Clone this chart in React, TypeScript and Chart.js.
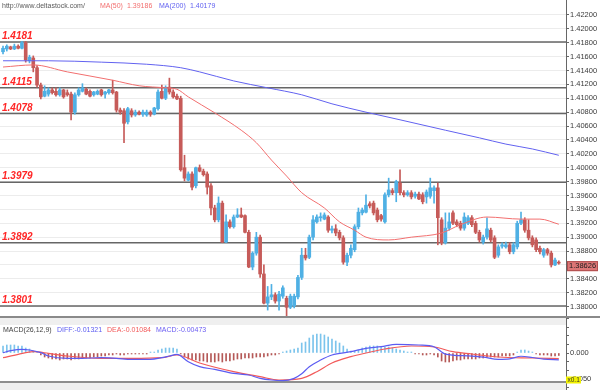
import React, { useEffect, useRef } from 'react';
import { Chart, registerables } from 'chart.js';

Chart.register(...registerables);

// ---------- DATA ----------
const OPEN = [
  1.4167, 1.4171, 1.4174, 1.4171, 1.4175, 1.4172, 1.4180, 1.4154, 1.4158, 1.4144,
  1.4119, 1.4103, 1.4106, 1.4112, 1.4110, 1.4105, 1.4112, 1.4108, 1.4106, 1.4080,
  1.4105, 1.4110, 1.4113, 1.4110, 1.4105, 1.4106, 1.4112, 1.4106, 1.4108, 1.4112,
  1.4109, 1.4083, 1.4082, 1.4066, 1.4082, 1.4076, 1.4080, 1.4077, 1.4076, 1.4080,
  1.4077, 1.4085, 1.4110, 1.4100, 1.4116, 1.4109, 1.4103, 1.4100, 1.4000, 1.3982,
  1.3991, 1.3974, 1.4000, 1.3995, 1.3991, 1.3974, 1.3942, 1.3925, 1.3949, 1.3893,
  1.3922, 1.3915, 1.3929, 1.3932, 1.3931, 1.3907, 1.3857, 1.3877, 1.3900, 1.3847,
  1.3805, 1.3814, 1.3817, 1.3808, 1.3815, 1.3812, 1.3799, 1.3801, 1.3814, 1.3842,
  1.3874, 1.3871, 1.3900, 1.3922, 1.3928, 1.3926, 1.3929, 1.3910, 1.3912, 1.3907,
  1.3899, 1.3864, 1.3874, 1.3882, 1.3915, 1.3935, 1.3936, 1.3948, 1.3949, 1.3939,
  1.3931, 1.3922, 1.3961, 1.3967, 1.3964, 1.3978, 1.3964, 1.3961, 1.3964, 1.3959,
  1.3962, 1.3961, 1.3958, 1.3959, 1.3967, 1.3971, 1.3925, 1.3892, 1.3913, 1.3935,
  1.3922, 1.3920, 1.3913, 1.3920, 1.3928, 1.3920, 1.3907, 1.3893, 1.3900, 1.3910,
  1.3899, 1.3874, 1.3887, 1.3886, 1.3889, 1.3879, 1.3886, 1.3920, 1.3925, 1.3910,
  1.3899, 1.3896, 1.3884, 1.3874, 1.3882, 1.3877, 1.3860, 1.3864,
];
const HIGH = [
  1.4175, 1.4177, 1.4175, 1.4178, 1.4177, 1.4182, 1.4182, 1.4162, 1.4161, 1.4147,
  1.4122, 1.4118, 1.4115, 1.4115, 1.4115, 1.4115, 1.4113, 1.4112, 1.4109, 1.4108,
  1.4115, 1.4121, 1.4115, 1.4112, 1.4110, 1.4112, 1.4113, 1.4110, 1.4113, 1.4126,
  1.4110, 1.4086, 1.4085, 1.4087, 1.4085, 1.4083, 1.4082, 1.4083, 1.4083, 1.4082,
  1.4087, 1.4112, 1.4119, 1.4118, 1.4129, 1.4112, 1.4106, 1.4103, 1.4018, 1.3994,
  1.3994, 1.4001, 1.4004, 1.3998, 1.3994, 1.3977, 1.3946, 1.3958, 1.3952, 1.3932,
  1.3925, 1.3932, 1.3941, 1.3942, 1.3932, 1.3910, 1.3879, 1.3907, 1.3903, 1.3860,
  1.3829, 1.3832, 1.3820, 1.3822, 1.3830, 1.3815, 1.3818, 1.3818, 1.3845, 1.3884,
  1.3884, 1.3903, 1.3931, 1.3932, 1.3935, 1.3935, 1.3931, 1.3916, 1.3918, 1.3910,
  1.3902, 1.3877, 1.3889, 1.3918, 1.3942, 1.3942, 1.3961, 1.3951, 1.3952, 1.3942,
  1.3933, 1.3964, 1.3985, 1.3970, 1.3982, 1.3997, 1.3967, 1.3967, 1.3967, 1.3965,
  1.3965, 1.3964, 1.3968, 1.3985, 1.3974, 1.3978, 1.3928, 1.3935, 1.3935, 1.3938,
  1.3925, 1.3923, 1.3935, 1.3931, 1.3931, 1.3923, 1.3910, 1.3903, 1.3928, 1.3913,
  1.3902, 1.3889, 1.3892, 1.3893, 1.3892, 1.3892, 1.3923, 1.3936, 1.3928, 1.3925,
  1.3902, 1.3899, 1.3887, 1.3884, 1.3884, 1.3880, 1.3870, 1.3866,
];
const LOW = [
  1.4164, 1.4168, 1.4170, 1.4170, 1.4171, 1.4171, 1.4152, 1.4151, 1.4138, 1.4116,
  1.4099, 1.4102, 1.4103, 1.4106, 1.4103, 1.4103, 1.4100, 1.4103, 1.4069, 1.4077,
  1.4103, 1.4109, 1.4105, 1.4102, 1.4103, 1.4105, 1.4103, 1.4100, 1.4106, 1.4106,
  1.4080, 1.4077, 1.4036, 1.4063, 1.4073, 1.4074, 1.4076, 1.4074, 1.4074, 1.4074,
  1.4076, 1.4083, 1.4099, 1.4098, 1.4106, 1.4100, 1.4098, 1.3995, 1.3981, 1.3981,
  1.3968, 1.3971, 1.3994, 1.3988, 1.3962, 1.3932, 1.3922, 1.3922, 1.3892, 1.3892,
  1.3913, 1.3913, 1.3928, 1.3928, 1.3906, 1.3856, 1.3853, 1.3874, 1.3842, 1.3804,
  1.3795, 1.3810, 1.3805, 1.3795, 1.3812, 1.3785, 1.3797, 1.3798, 1.3811, 1.3839,
  1.3867, 1.3869, 1.3896, 1.3920, 1.3923, 1.3925, 1.3907, 1.3906, 1.3902, 1.3896,
  1.3861, 1.3859, 1.3870, 1.3879, 1.3912, 1.3932, 1.3935, 1.3942, 1.3932, 1.3922,
  1.3923, 1.3920, 1.3958, 1.3961, 1.3951, 1.3961, 1.3958, 1.3959, 1.3955, 1.3956,
  1.3954, 1.3948, 1.3949, 1.3956, 1.3949, 1.3889, 1.3889, 1.3890, 1.3910, 1.3918,
  1.3915, 1.3910, 1.3910, 1.3918, 1.3915, 1.3905, 1.3893, 1.3890, 1.3897, 1.3893,
  1.3869, 1.3871, 1.3884, 1.3884, 1.3876, 1.3876, 1.3883, 1.3918, 1.3907, 1.3896,
  1.3886, 1.3879, 1.3876, 1.3871, 1.3874, 1.3857, 1.3859, 1.3861,
];
const CLOSE = [
  1.4172, 1.4175, 1.4171, 1.4175, 1.4172, 1.4180, 1.4155, 1.4159, 1.4144, 1.4119,
  1.4102, 1.4110, 1.4112, 1.4108, 1.4105, 1.4112, 1.4102, 1.4105, 1.4080, 1.4105,
  1.4112, 1.4115, 1.4106, 1.4103, 1.4109, 1.4110, 1.4105, 1.4109, 1.4112, 1.4108,
  1.4083, 1.4080, 1.4064, 1.4085, 1.4076, 1.4080, 1.4077, 1.4080, 1.4080, 1.4077,
  1.4086, 1.4109, 1.4100, 1.4115, 1.4109, 1.4102, 1.4099, 1.3997, 1.3985, 1.3991,
  1.3972, 1.4000, 1.3995, 1.3990, 1.3972, 1.3942, 1.3925, 1.3949, 1.3893, 1.3922,
  1.3915, 1.3929, 1.3932, 1.3929, 1.3907, 1.3857, 1.3877, 1.3900, 1.3847, 1.3805,
  1.3814, 1.3817, 1.3808, 1.3818, 1.3827, 1.3799, 1.3815, 1.3815, 1.3842, 1.3874,
  1.3870, 1.3900, 1.3925, 1.3929, 1.3929, 1.3932, 1.3910, 1.3912, 1.3906, 1.3899,
  1.3864, 1.3874, 1.3884, 1.3915, 1.3936, 1.3939, 1.3946, 1.3945, 1.3935, 1.3925,
  1.3926, 1.3961, 1.3968, 1.3964, 1.3980, 1.3964, 1.3961, 1.3964, 1.3958, 1.3962,
  1.3955, 1.3951, 1.3965, 1.3971, 1.3971, 1.3928, 1.3892, 1.3913, 1.3922, 1.3920,
  1.3918, 1.3913, 1.3929, 1.3928, 1.3918, 1.3907, 1.3896, 1.3900, 1.3912, 1.3896,
  1.3871, 1.3886, 1.3889, 1.3889, 1.3879, 1.3889, 1.3920, 1.3925, 1.3910, 1.3899,
  1.3889, 1.3882, 1.3879, 1.3882, 1.3877, 1.3860, 1.3867, 1.38626,
];

const MA50_IDX = [0, 8, 17, 29, 36, 43, 46, 49, 56, 63, 67, 71, 75, 79, 85, 89, 93, 96, 102, 108, 116, 121, 128, 137, 142, 147];
const MA50_VAL = [1.4145, 1.4148, 1.4138, 1.4126, 1.4118, 1.4115, 1.4113, 1.4102, 1.4079, 1.4054, 1.4036, 1.4011, 1.3988, 1.3964, 1.3942, 1.3922, 1.3910, 1.3900, 1.3896, 1.3900, 1.3906, 1.3918, 1.3929, 1.3926, 1.3926, 1.39186];
const MA200_IDX = [0, 12, 26, 38, 47, 52, 61, 70, 79, 87, 96, 105, 117, 126, 133, 140, 147];
const MA200_VAL = [1.4154, 1.4154, 1.4152, 1.4149, 1.4144, 1.4138, 1.4125, 1.4115, 1.4105, 1.4092, 1.4080, 1.4069, 1.4054, 1.4043, 1.4034, 1.4027, 1.40179];

const MACD_HIST = [
  0.0135, 0.0154, 0.0154, 0.0154, 0.0135, 0.0135, 0.0096, 0.0077, 0.0038, 0.0019,
  -0.0038, -0.0077, -0.0096, -0.0115, -0.0115, -0.0135, -0.0115, -0.0115, -0.0135, -0.0115,
  -0.0115, -0.0096, -0.0096, -0.0096, -0.0077, -0.0077, -0.0058, -0.0058, -0.0038, -0.0038,
  -0.0019, -0.0038, -0.0038, -0.0019, -0.0019, -0.0019, -0.0019, -0.0019, -0.0019, 0.0019,
  0.0019, 0.0058, 0.0077, 0.0096, 0.0096, 0.0096, 0.0077, -0.0019, -0.0077, -0.0115,
  -0.0135, -0.0135, -0.0154, -0.0154, -0.0173, -0.0173, -0.0173, -0.0154, -0.0173, -0.0154,
  -0.0154, -0.0135, -0.0115, -0.0115, -0.0096, -0.0096, -0.0096, -0.0077, -0.0077, -0.0077,
  -0.0058, -0.0038, -0.0038, -0.0019, 0.0019, 0.0038, 0.0058, 0.0077, 0.0096, 0.0192,
  0.0212, 0.0288, 0.0346, 0.0365, 0.0365, 0.0346, 0.0308, 0.0269, 0.0231, 0.0192,
  0.0135, 0.0077, 0.0038, 0.0038, 0.0058, 0.0096, 0.0115, 0.0135, 0.0135, 0.0135,
  0.0115, 0.0115, 0.0115, 0.0096, 0.0077, 0.0058, 0.0038, 0.0019, 0.0019, -0.0019,
  -0.0019, -0.0038, -0.0038, -0.0019, -0.0038, -0.0077, -0.0154, -0.0173, -0.0173, -0.0154,
  -0.0135, -0.0135, -0.0115, -0.0115, -0.0115, -0.0115, -0.0096, -0.0096, -0.0077, -0.0077,
  -0.0077, -0.0077, -0.0058, -0.0058, -0.0058, -0.0038, 0.0019, 0.0058, 0.0058, 0.0038,
  0.0019, -0.0019, -0.0038, -0.0038, -0.0038, -0.0058, -0.0058, -0.00473,
];
const DIFF_IDX = [0, 2, 5, 7, 10, 12, 17, 21, 26, 30, 34, 39, 42, 44, 46, 49, 52, 56, 61, 65, 68, 71, 74, 77, 79, 81, 84, 87, 92, 96, 100, 104, 110, 114, 117, 123, 127, 131, 134, 137, 140, 143, 147];
const DIFF_VAL = [0.0006, 0.0044, 0.0071, 0.0058, 0.0006, -0.0058, -0.0103, -0.0103, -0.0090, -0.0103, -0.0122, -0.0122, -0.0090, -0.0058, -0.0026, -0.0167, -0.0263, -0.0314, -0.0391, -0.0423, -0.0487, -0.0519, -0.0532, -0.0487, -0.0400, -0.0263, -0.0135, -0.0038, 0.0025, 0.0090, 0.0121, 0.0167, 0.0154, 0.0121, -0.0020, -0.0055, -0.0080, -0.0122, -0.0113, -0.0062, -0.0086, -0.0119, -0.01321];
const DEA_IDX = [0, 4, 8, 12, 17, 26, 34, 42, 46, 52, 61, 68, 73, 79, 83, 87, 92, 96, 101, 108, 114, 119, 124, 131, 140, 147];
const DEA_VAL = [-0.0090, -0.0026, 0.0025, -0.0006, -0.0058, -0.0103, -0.0103, -0.0090, -0.0038, -0.0192, -0.0359, -0.0455, -0.0519, -0.0487, -0.0359, -0.0192, -0.0071, 0.0, 0.0077, 0.0135, 0.0115, 0.0025, -0.0019, -0.0077, -0.0096, -0.01084];

const PRICE_TICKS = [1.380, 1.382, 1.384, 1.386, 1.388, 1.390, 1.392, 1.394, 1.396, 1.398, 1.400, 1.402, 1.404, 1.406, 1.408, 1.410, 1.412, 1.414, 1.416, 1.418, 1.420, 1.422];
const MACD_TICKS = [-0.0667, -0.05, -0.0333, -0.0167, 0, 0.0167, 0.0333, 0.05, 0.0667];
const MACD_TICK_LABELS = ['', '-0.050', '', '', '0.000', '', '', '', ''];
const LEVELS = [1.4181, 1.4115, 1.4078, 1.3979, 1.3892, 1.3801];
const LEVEL_LABELS = ['1.4181', '1.4115', '1.4078', '1.3979', '1.3892', '1.3801'];

const SOURCE_TEXT = 'http://www.deltastock.com/';
const DIFF_TEXT = 'DIFF:-0.01321';
const DEA_TEXT = 'DEA:-0.01084';
const MACD_TEXT = 'MACD:-0.00473';

// ---------- STYLE ----------
const UP = '#4fb0e4';
const DOWN = '#c65b59';
const MA50_COLOR = '#f26f6f';
const MA200_COLOR = '#6262f0';
const DIFF_COLOR = '#5c5cf2';
const DEA_COLOR = '#f25a5a';
const FONT = '"Liberation Sans", Arial, sans-serif';

const X_MIN = -0.8;
const X_MAX = 148.9;
const PRICE_MIN = 1.37836;
const PRICE_MAX = 1.42415;
const MACD_MIN = -0.07115;
const MACD_MAX = 0.06731;

const mainDecor = {
  id: 'mainDecor',
  beforeDatasetsDraw(chart: any) {
    const { ctx, chartArea: a, scales } = chart;
    ctx.save();
    ctx.strokeStyle = '#666666';
    ctx.lineWidth = 1.5;
    for (const lv of LEVELS) {
      const py = scales.y.getPixelForValue(lv);
      ctx.beginPath();
      ctx.moveTo(a.left, py);
      ctx.lineTo(a.right, py);
      ctx.stroke();
    }
    ctx.restore();
  },
  afterDatasetsDraw(chart: any) {
    const { ctx, chartArea: a, scales, width, height } = chart;
    ctx.save();
    ctx.textAlign = 'left';
    ctx.textBaseline = 'alphabetic';
    ctx.font = 'italic bold 10px ' + FONT;
    ctx.fillStyle = '#ff2626';
    LEVELS.forEach((lv, k) => {
      const py = scales.y.getPixelForValue(lv);
      ctx.fillText(LEVEL_LABELS[k], 2, py - 3);
    });

    ctx.font = '7px ' + FONT;
    ctx.textBaseline = 'middle';
    ctx.fillStyle = '#5a5a5a';
    ctx.fillText(SOURCE_TEXT, 2, 6);
    ctx.fillStyle = MA50_COLOR;
    ctx.fillText('MA(50)', 100, 6);
    ctx.fillText(MA50_VAL[MA50_VAL.length - 1].toFixed(5), 127, 6);
    ctx.fillStyle = MA200_COLOR;
    ctx.fillText('MA(200)', 159, 6);
    ctx.fillText(MA200_VAL[MA200_VAL.length - 1].toFixed(5), 190, 6);

    const last = CLOSE[CLOSE.length - 1];
    const py = scales.y.getPixelForValue(last);
    ctx.fillStyle = '#dc7676';
    ctx.fillRect(a.right + 1, py - 2, 31, 10);
    ctx.strokeStyle = '#b04e4e';
    ctx.lineWidth = 1;
    ctx.strokeRect(a.right + 1.5, py - 1.5, 30, 9);
    ctx.fillStyle = '#1e1e1e';
    ctx.font = '7.5px ' + FONT;
    ctx.fillText(last.toFixed(5), a.right + 3, py + 3);

    ctx.fillStyle = '#8a8a8a';
    ctx.fillRect(0, height - 2, width, 2);
    ctx.restore();
  },
};

const macdDecor = {
  id: 'macdDecor',
  beforeDraw(chart: any) {
    const { ctx, chartArea: a } = chart;
    ctx.save();
    ctx.fillStyle = '#efefef';
    ctx.fillRect(a.left, 0, a.right - a.left, 7);
    ctx.fillRect(a.left, 63, a.right - a.left, 9);
    ctx.fillStyle = '#8e8e8e';
    ctx.fillRect(a.left, 63, a.right - a.left, 2);
    ctx.restore();
  },
  afterDatasetsDraw(chart: any) {
    const { ctx, chartArea: a } = chart;
    ctx.save();
    ctx.textAlign = 'left';
    ctx.textBaseline = 'middle';
    ctx.font = '7px ' + FONT;
    ctx.fillStyle = '#444444';
    ctx.fillText('MACD(26,12,9)', 3, 12);
    ctx.fillStyle = DIFF_COLOR;
    ctx.fillText(DIFF_TEXT, 57, 12);
    ctx.fillStyle = DEA_COLOR;
    ctx.fillText(DEA_TEXT, 107, 12);
    ctx.fillStyle = '#6a5cf2';
    ctx.fillText(MACD_TEXT, 156, 12);

    ctx.fillStyle = '#f2f200';
    ctx.fillRect(a.right, 58.5, 15, 7);
    ctx.fillStyle = '#333333';
    ctx.font = '6.5px ' + FONT;
    ctx.fillText('x0.1', a.right + 1.5, 62);
    ctx.restore();
  },
};

export default function App() {
  const mainRef = useRef<HTMLCanvasElement>(null);
  const macdRef = useRef<HTMLCanvasElement>(null);

  useEffect(() => {
    const idx = CLOSE.map((_, i) => i);
    const candleColors = CLOSE.map((c, i) => (c >= OPEN[i] ? UP : DOWN));

    const yFit = (s: any) => {
      s.width = 34;
      s.paddingTop = 0;
      s.paddingBottom = 0;
    };

    const main = new Chart(mainRef.current as HTMLCanvasElement, {
      type: 'bar',
      data: {
        datasets: [
          {
            type: 'line',
            label: 'MA(50)',
            data: MA50_IDX.map((x, k) => ({ x, y: MA50_VAL[k] })),
            borderColor: MA50_COLOR,
            borderWidth: 1,
            pointRadius: 0,
            cubicInterpolationMode: 'monotone',
            order: 0,
          },
          {
            type: 'line',
            label: 'MA(200)',
            data: MA200_IDX.map((x, k) => ({ x, y: MA200_VAL[k] })),
            borderColor: MA200_COLOR,
            borderWidth: 1,
            pointRadius: 0,
            cubicInterpolationMode: 'monotone',
            order: 0,
          },
          {
            type: 'bar',
            label: 'wick',
            data: idx.map((i) => ({ x: i, y: [LOW[i], HIGH[i]] })),
            backgroundColor: candleColors,
            barThickness: 1,
            grouped: false,
            order: 2,
          },
          {
            type: 'bar',
            label: 'body',
            data: idx.map((i) => ({ x: i, y: [OPEN[i], CLOSE[i]] })),
            backgroundColor: candleColors,
            barThickness: 3,
            minBarLength: 1,
            grouped: false,
            order: 1,
          },
        ] as any,
      },
      options: {
        animation: false,
        responsive: false,
        events: [],
        layout: { padding: 0 },
        plugins: { legend: { display: false }, tooltip: { enabled: false } },
        scales: {
          x: { type: 'linear', min: X_MIN, max: X_MAX, display: false, offset: false },
          y: {
            position: 'right',
            min: PRICE_MIN,
            max: PRICE_MAX,
            afterBuildTicks: (s: any) => {
              s.ticks = PRICE_TICKS.map((v) => ({ value: v }));
            },
            afterFit: yFit,
            ticks: {
              autoSkip: false,
              padding: 1,
              color: '#3a3a3a',
              font: { size: 7.5, family: FONT },
              callback: (v: any) => Number(v).toFixed(5),
            },
            grid: { color: '#ececec', tickColor: '#666666', tickLength: 3 },
            border: { color: '#666666', width: 1 },
          },
        },
      } as any,
      plugins: [mainDecor],
    });

    const macd = new Chart(macdRef.current as HTMLCanvasElement, {
      type: 'bar',
      data: {
        datasets: [
          {
            type: 'line',
            label: 'DIFF',
            data: DIFF_IDX.map((x, k) => ({ x, y: DIFF_VAL[k] })),
            borderColor: DIFF_COLOR,
            borderWidth: 1.2,
            pointRadius: 0,
            cubicInterpolationMode: 'monotone',
            order: 0,
          },
          {
            type: 'line',
            label: 'DEA',
            data: DEA_IDX.map((x, k) => ({ x, y: DEA_VAL[k] })),
            borderColor: DEA_COLOR,
            borderWidth: 1.2,
            pointRadius: 0,
            cubicInterpolationMode: 'monotone',
            order: 0,
          },
          {
            type: 'bar',
            label: 'MACD',
            data: idx.map((i) => ({ x: i, y: MACD_HIST[i] })),
            backgroundColor: MACD_HIST.map((v) => (v >= 0 ? '#7cc4ec' : '#b55957')),
            barThickness: 1,
            grouped: false,
            order: 1,
          },
        ] as any,
      },
      options: {
        animation: false,
        responsive: false,
        events: [],
        layout: { padding: 0 },
        plugins: { legend: { display: false }, tooltip: { enabled: false } },
        scales: {
          x: { type: 'linear', min: X_MIN, max: X_MAX, display: false, offset: false },
          y: {
            position: 'right',
            min: MACD_MIN,
            max: MACD_MAX,
            afterBuildTicks: (s: any) => {
              s.ticks = MACD_TICKS.map((v) => ({ value: v }));
            },
            afterFit: yFit,
            ticks: {
              autoSkip: false,
              padding: 1,
              color: '#3a3a3a',
              font: { size: 7.5, family: FONT },
              callback: (_v: any, i: number) => MACD_TICK_LABELS[i],
            },
            grid: { drawOnChartArea: false, tickColor: '#666666', tickLength: 3 },
            border: { color: '#666666', width: 1 },
          },
        },
      } as any,
      plugins: [macdDecor],
    });

    return () => {
      main.destroy();
      macd.destroy();
    };
  }, []);

  return (
    <div style={{ position: 'absolute', left: 0, top: 0, width: 600, height: 390, background: '#ffffff' }}>
      <canvas ref={mainRef} width={600} height={318} style={{ position: 'absolute', left: 0, top: 0 }} />
      <canvas ref={macdRef} width={600} height={72} style={{ position: 'absolute', left: 0, top: 318 }} />
    </div>
  );
}
